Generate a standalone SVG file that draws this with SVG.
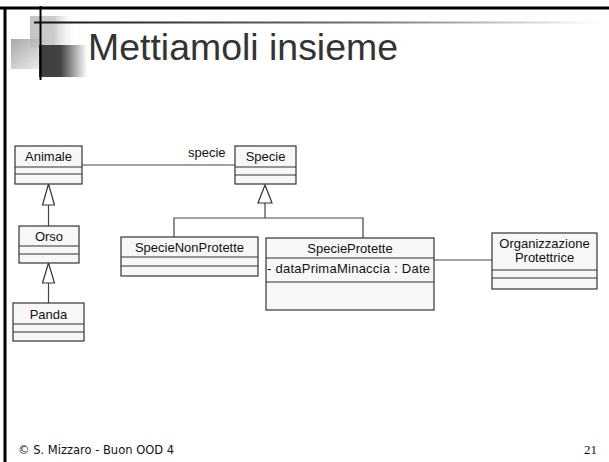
<svg xmlns="http://www.w3.org/2000/svg" width="609" height="462" viewBox="0 0 609 462">
  <style>
    .box { fill: #f7f7f7; stroke: #333333; stroke-width: 1.2; }
    .sep { stroke: #333333; stroke-width: 1.2; }
    .edge { stroke: #444444; stroke-width: 1.2; fill: none; }
    .head { fill: #ffffff; stroke: #333333; stroke-width: 1.2; }
    .lbl { font-family: "Liberation Sans", Arial, sans-serif; font-size: 13px; fill: #111111; }
    .mid { text-anchor: middle; }
  </style>
  <defs>
    <linearGradient id="gLight" x1="0" y1="0" x2="1" y2="0">
      <stop offset="0" stop-color="#c4c4c4"/>
      <stop offset="0.5" stop-color="#cccccc"/>
      <stop offset="1" stop-color="#ffffff" stop-opacity="0"/>
    </linearGradient>
    <linearGradient id="gMid" x1="0" y1="0" x2="1" y2="1">
      <stop offset="0" stop-color="#9a9a9a"/>
      <stop offset="1" stop-color="#f2f2f2"/>
    </linearGradient>
    <linearGradient id="gDark" x1="0" y1="0" x2="1" y2="0">
      <stop offset="0" stop-color="#3c3c3c"/>
      <stop offset="0.45" stop-color="#444444"/>
      <stop offset="1" stop-color="#ffffff"/>
    </linearGradient>
    <linearGradient id="gRule" x1="34" y1="0" x2="600" y2="0" gradientUnits="userSpaceOnUse">
      <stop offset="0" stop-color="#111111"/>
      <stop offset="0.6" stop-color="#777777"/>
      <stop offset="1" stop-color="#ffffff"/>
    </linearGradient>
  </defs>

  <rect x="0" y="0" width="609" height="462" fill="#ffffff"/>

  <!-- slide frame -->
  <line x1="0" y1="8" x2="609" y2="8" stroke="#000000" stroke-width="3"/>
  <line x1="5" y1="7" x2="5" y2="462" stroke="#000000" stroke-width="3"/>

  <!-- title decoration -->
  <rect x="30" y="16" width="48" height="32" fill="url(#gLight)"/>
  <rect x="11" y="39" width="38" height="30" fill="url(#gMid)" opacity="0.85"/>
  <rect x="39" y="45" width="48" height="32" fill="url(#gDark)"/>
  <line x1="34" y1="22.5" x2="600" y2="22.5" stroke="url(#gRule)" stroke-width="2"/>
  <line x1="40.5" y1="6" x2="40.5" y2="80" stroke="#000000" stroke-width="2"/>

  <text x="88" y="60" font-family="'Liberation Sans', Arial, sans-serif" font-size="37.5" fill="#333333" textLength="310" lengthAdjust="spacingAndGlyphs">Mettiamoli insieme</text>

  <!-- connectors -->
  <g id="connectors">
    <line class="edge" x1="82" y1="165" x2="235" y2="165"/>
    <text class="lbl" x="188" y="157">specie</text>
    <line class="edge" x1="48.5" y1="205" x2="48.5" y2="226"/>
    <polygon class="head" points="48.5,184 42.5,205 54.5,205"/>
    <line class="edge" x1="48.5" y1="283" x2="48.5" y2="303"/>
    <polygon class="head" points="48.5,263 42.5,283 54.5,283"/>
    <path class="edge" d="M265,203 V218 M174,237 V218 H363 V238"/>
    <polygon class="head" points="265,185 258,203 272,203"/>
    <line class="edge" x1="434" y1="260" x2="492" y2="260"/>
  </g>

  <g id="animale">
    <rect class="box" x="15" y="146" width="67" height="38"/>
    <line class="sep" x1="15" y1="167" x2="82" y2="167"/>
    <line class="sep" x1="15" y1="174" x2="82" y2="174"/>
    <text class="lbl mid" x="48.5" y="161">Animale</text>
  </g>

  <g id="specie">
    <rect class="box" x="235" y="146" width="61" height="38"/>
    <line class="sep" x1="235" y1="167" x2="296" y2="167"/>
    <line class="sep" x1="235" y1="175" x2="296" y2="175"/>
    <text class="lbl mid" x="265.5" y="161">Specie</text>
  </g>

  <g id="orso">
    <rect class="box" x="19" y="226" width="60" height="37"/>
    <line class="sep" x1="19" y1="246" x2="79" y2="246"/>
    <line class="sep" x1="19" y1="254" x2="79" y2="254"/>
    <text class="lbl mid" x="49" y="241">Orso</text>
  </g>

  <g id="panda">
    <rect class="box" x="13" y="303" width="71" height="38"/>
    <line class="sep" x1="13" y1="324" x2="84" y2="324"/>
    <line class="sep" x1="13" y1="332" x2="84" y2="332"/>
    <text class="lbl mid" x="48.5" y="319">Panda</text>
  </g>

  <g id="specie-non-protette">
    <rect class="box" x="121" y="237" width="137" height="39"/>
    <line class="sep" x1="121" y1="257" x2="258" y2="257"/>
    <line class="sep" x1="121" y1="266" x2="258" y2="266"/>
    <text class="lbl mid" x="189.5" y="252">SpecieNonProtette</text>
  </g>

  <g id="specie-protette">
    <rect class="box" x="266" y="238" width="168" height="72"/>
    <line class="sep" x1="266" y1="258" x2="434" y2="258"/>
    <line class="sep" x1="266" y1="282" x2="434" y2="282"/>
    <text class="lbl mid" x="350" y="253">SpecieProtette</text>
    <text class="lbl" x="267" y="273" textLength="163" lengthAdjust="spacing">- dataPrimaMinaccia : Date</text>
  </g>

  <g id="organizzazione-protettrice">
    <rect class="box" x="492" y="233" width="105" height="56"/>
    <line class="sep" x1="492" y1="270" x2="597" y2="270"/>
    <line class="sep" x1="492" y1="278" x2="597" y2="278"/>
    <text class="lbl mid" x="544.5" y="248">Organizzazione</text>
    <text class="lbl mid" x="544.5" y="262">Protettrice</text>
  </g>

  <!-- footer -->
  <text x="18" y="454" font-family="'DejaVu Sans', Verdana, sans-serif" font-size="11.5" fill="#111111">© S. Mizzaro - Buon OOD 4</text>
  <text x="597" y="454" text-anchor="end" font-family="'Liberation Serif', 'Times New Roman', serif" font-size="13" fill="#111111">21</text>
</svg>
